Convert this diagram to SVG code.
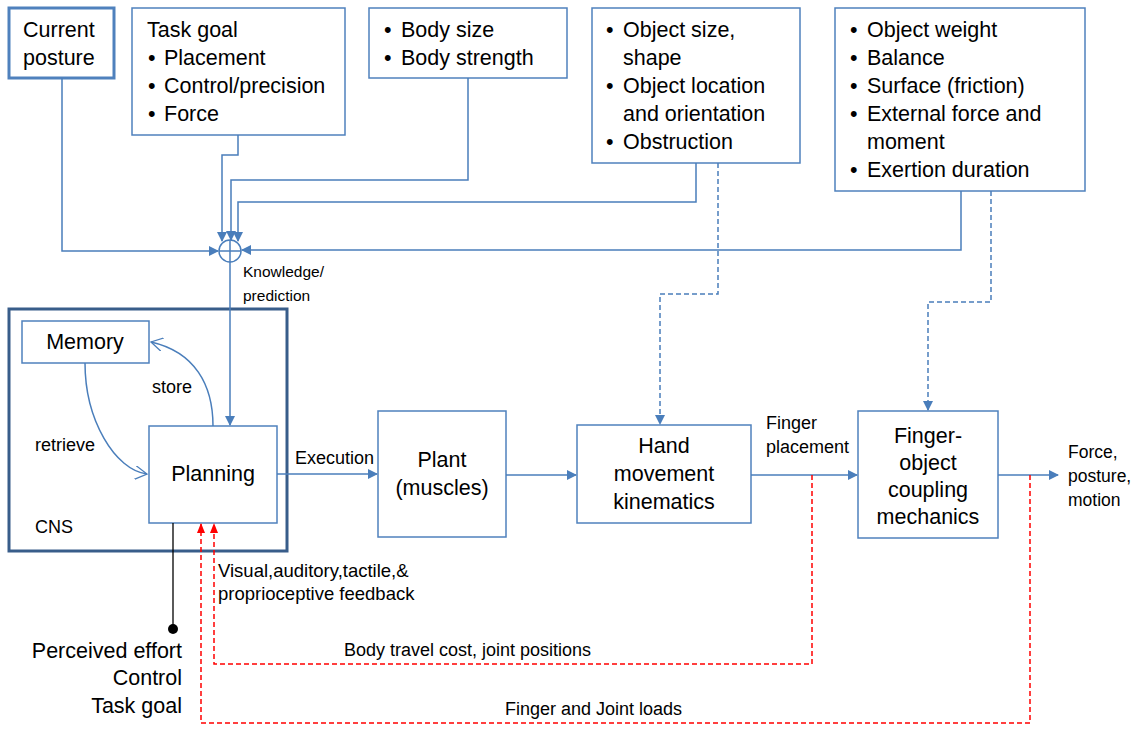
<svg xmlns="http://www.w3.org/2000/svg" width="1144" height="730" viewBox="0 0 1144 730">
<defs>
<marker id="ah" markerWidth="10" markerHeight="10" refX="9" refY="5" orient="auto" markerUnits="userSpaceOnUse"><path d="M0,0 L10,5 L0,10 z" fill="#4a7ebb"/></marker>
<marker id="ahr" markerWidth="10" markerHeight="10" refX="9" refY="5" orient="auto" markerUnits="userSpaceOnUse"><path d="M0,1 L10,5 L0,9 z" fill="#ff0000"/></marker>
<marker id="ao" markerWidth="14" markerHeight="14" refX="12" refY="7" orient="auto" markerUnits="userSpaceOnUse"><path d="M0,0 L12,7 L0,14" fill="none" stroke="#4a7ebb" stroke-width="1.3"/></marker>
</defs>
<style>
.box{fill:#fff;stroke:#4f81bd;stroke-width:1.5}
.thick{fill:#fff;stroke:#4f81bd;stroke-width:3}
.cns{fill:none;stroke:#385d8a;stroke-width:3}
.t{font-family:"Liberation Sans",Arial,sans-serif;font-size:21.5px;fill:#000}
.c{text-anchor:middle}
.s{font-family:"Liberation Sans",Arial,sans-serif;font-size:18px;fill:#000}
.ln{fill:none;stroke:#4a7ebb;stroke-width:1.5}
.dl{fill:none;stroke:#4a7ebb;stroke-width:1.5;stroke-dasharray:5,3}
.rd{fill:none;stroke:#ff0000;stroke-width:1.5;stroke-dasharray:5,3}
</style>
<rect width="1144" height="730" fill="#fff"/>

<g id="current-posture">
<rect class="thick" x="9" y="8" width="105" height="70"/>
<text class="t" x="23" y="37">Current</text>
<text class="t" x="23" y="65">posture</text>
</g>
<g id="task-goal">
<rect class="box" x="132" y="8" width="213" height="127"/>
<text class="t" x="147" y="37">Task goal</text>
<text class="t" x="148" y="65">•</text><text class="t" x="164" y="65">Placement</text>
<text class="t" x="148" y="93">•</text><text class="t" x="164" y="93">Control/precision</text>
<text class="t" x="148" y="121">•</text><text class="t" x="164" y="121">Force</text>
</g>
<g id="body">
<rect class="box" x="369" y="8" width="198" height="70"/>
<text class="t" x="384" y="37">•</text><text class="t" x="401" y="37">Body size</text>
<text class="t" x="384" y="65">•</text><text class="t" x="401" y="65">Body strength</text>
</g>
<g id="object-geometry">
<rect class="box" x="592" y="8" width="208" height="155"/>
<text class="t" x="606" y="37">•</text><text class="t" x="623" y="37">Object size,</text>
<text class="t" x="623" y="65">shape</text>
<text class="t" x="606" y="93">•</text><text class="t" x="623" y="93">Object location</text>
<text class="t" x="623" y="121">and orientation</text>
<text class="t" x="606" y="149">•</text><text class="t" x="623" y="149">Obstruction</text>
</g>
<g id="object-physics">
<rect class="box" x="835" y="8" width="250" height="183"/>
<text class="t" x="850" y="37">•</text><text class="t" x="867" y="37">Object weight</text>
<text class="t" x="850" y="65">•</text><text class="t" x="867" y="65">Balance</text>
<text class="t" x="850" y="93">•</text><text class="t" x="867" y="93">Surface (friction)</text>
<text class="t" x="850" y="121">•</text><text class="t" x="867" y="121">External force and</text>
<text class="t" x="867" y="149">moment</text>
<text class="t" x="850" y="177">•</text><text class="t" x="867" y="177">Exertion duration</text>
</g>

<g id="sum">
<circle cx="230" cy="251" r="11" fill="#fff" stroke="#4a7ebb" stroke-width="1.5"/>
<line x1="230" y1="240" x2="230" y2="262" stroke="#4a7ebb" stroke-width="1.5"/>
<line x1="219" y1="251" x2="241" y2="251" stroke="#4a7ebb" stroke-width="1.5"/>
</g>

<g id="cns">
<rect class="cns" x="9" y="309" width="278" height="242"/>
<text class="s" x="35" y="533" style="font-size:18px">CNS</text>
</g>
<g id="memory">
<rect class="box" x="22" y="321" width="127" height="42"/>
<text class="t c" x="85" y="349">Memory</text>
</g>
<g id="planning">
<rect class="box" x="149" y="426" width="128" height="97"/>
<text class="t c" x="213" y="481">Planning</text>
</g>
<g id="plant">
<rect class="box" x="378" y="411" width="128" height="126"/>
<text class="t c" x="442" y="467">Plant</text>
<text class="t c" x="442" y="495">(muscles)</text>
</g>
<g id="hand">
<rect class="box" x="577" y="425" width="174" height="98"/>
<text class="t c" x="664" y="453">Hand</text>
<text class="t c" x="664" y="481">movement</text>
<text class="t c" x="664" y="509">kinematics</text>
</g>
<g id="finger-object">
<rect class="box" x="858" y="411" width="140" height="127"/>
<text class="t c" x="928" y="443">Finger-</text>
<text class="t c" x="928" y="470">object</text>
<text class="t c" x="928" y="497">coupling</text>
<text class="t c" x="928" y="524">mechanics</text>
</g>

<g id="connectors">
<polyline class="ln" points="62,78 62,251 218,251" marker-end="url(#ah)"/>
<polyline class="ln" points="238,135 238,155 222,155 222,241" marker-end="url(#ah)"/>
<polyline class="ln" points="468,78 468,180 231,180 231,240" marker-end="url(#ah)"/>
<polyline class="ln" points="696,163 696,202 238,202 238,241" marker-end="url(#ah)"/>
<polyline class="ln" points="961,191 961,250 242,250" marker-end="url(#ah)"/>
<line class="ln" x1="230" y1="262" x2="230" y2="425" marker-end="url(#ah)"/>
<polyline class="dl" points="718,163 718,294 660,294 660,424" marker-end="url(#ah)"/>
<polyline class="dl" points="991,191 991,302 928,302 928,410" marker-end="url(#ah)"/>
<path class="ln" d="M213,426 C213,385 195,352 151,342" marker-end="url(#ao)"/>
<path class="ln" d="M85,363 C85,420 115,470 147,474" marker-end="url(#ao)"/>
<line class="ln" x1="277" y1="474" x2="377" y2="474" marker-end="url(#ah)"/>
<line class="ln" x1="506" y1="475" x2="576" y2="475" marker-end="url(#ah)"/>
<line class="ln" x1="751" y1="475" x2="857" y2="475" marker-end="url(#ah)"/>
<line class="ln" x1="998" y1="475" x2="1058" y2="475" marker-end="url(#ah)"/>
<polyline class="rd" points="812,475 812,664 214,664 214,524" marker-end="url(#ahr)"/>
<polyline class="rd" points="1030,475 1030,723 201,723 201,524" marker-end="url(#ahr)"/>
<line x1="173" y1="523" x2="173" y2="629" stroke="#000" stroke-width="1.3"/>
<circle cx="173" cy="629" r="5" fill="#000"/>
<text class="s" x="243" y="277" style="font-size:15.5px">Knowledge/</text>
<text class="s" x="243" y="301" style="font-size:15.5px">prediction</text>
<text class="s" x="152" y="393">store</text>
<text class="s" x="35" y="451">retrieve</text>
<text class="s" x="295" y="464">Execution</text>
<text class="s" x="766" y="429">Finger</text>
<text class="s" x="766" y="453">placement</text>
<text class="s" x="1068" y="458" style="font-size:17.5px">Force,</text>
<text class="s" x="1068" y="482" style="font-size:17.5px">posture,</text>
<text class="s" x="1068" y="506" style="font-size:17.5px">motion</text>
<text class="s" x="218" y="577" style="font-size:18.5px">Visual,auditory,tactile,&amp;</text>
<text class="s" x="218" y="600" style="font-size:18.5px">proprioceptive feedback</text>
<text class="s" x="344" y="656">Body travel cost, joint positions</text>
<text class="s" x="505" y="715">Finger and Joint loads</text>
<text class="t" x="182" y="658" text-anchor="end">Perceived effort</text>
<text class="t" x="182" y="685" text-anchor="end">Control</text>
<text class="t" x="182" y="713" text-anchor="end">Task goal</text>
</g>
</svg>
